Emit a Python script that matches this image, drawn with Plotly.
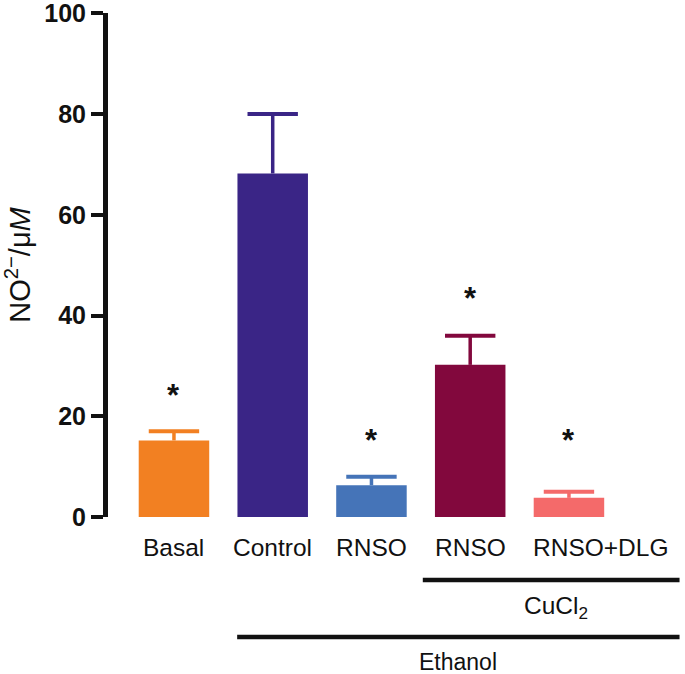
import plotly.graph_objects as go

categories = ["Basal", "Control", "RNSO", "RNSO", "RNSO+DLG"]
means = [15.2, 68.2, 6.3, 30.2, 3.8]
errors = [1.8, 11.8, 1.7, 5.8, 1.2]
significant = [True, False, True, True, True]
star_y = [24.6, None, 15.5, 43.8, 15.5]
colors = ["#F28022", "#3A2586", "#4574B8", "#82083D", "#F46A6A"]
y_ticks = [0, 20, 40, 60, 80, 100]

FONT = "Liberation Sans, Arial, sans-serif"
label_xshift = {4: 32}  # the last label sits right of its bar in the reference

fig = go.Figure()
for i, (m, e, c) in enumerate(zip(means, errors, colors)):
    fig.add_trace(go.Bar(
        x=[i], y=[m], width=0.714,
        marker=dict(color=c, line=dict(width=0)),
        error_y=dict(type="data", array=[e], arrayminus=[0], symmetric=False,
                     color=c, thickness=3.5, width=0),
        showlegend=False, hoverinfo="skip",
    ))
    fig.add_trace(go.Scatter(
        x=[i], y=[m + e], mode="markers",
        marker=dict(symbol="line-ew", size=36, line=dict(color=c, width=4)),
        showlegend=False, hoverinfo="skip",
    ))

annotations = []
for i, (s, sy) in enumerate(zip(significant, star_y)):
    if s:
        annotations.append(dict(x=i, y=sy, xref="x", yref="y", text="<b>*</b>",
                                showarrow=False, yanchor="middle", yshift=-2,
                                font=dict(family=FONT, size=31, color="#111")))

for i, lab in enumerate(categories):
    annotations.append(dict(x=i, xref="x", y=-0.0615, yref="paper", text=lab,
                            showarrow=False, yanchor="middle",
                            xshift=label_xshift.get(i, 0),
                            font=dict(family=FONT, size=24.5, color="#111")))

annotations.append(dict(x=3.87, xref="x", y=-0.18, yref="paper",
                        text="CuCl<sub>2</sub>", showarrow=False, yanchor="middle",
                        font=dict(family=FONT, size=24.5, color="#111")))
annotations.append(dict(x=2.88, xref="x", y=-0.288, yref="paper",
                        text="Ethanol", showarrow=False, yanchor="middle",
                        font=dict(family=FONT, size=23, color="#111")))

shapes = [
    dict(type="line", xref="x", yref="paper", x0=2.52, x1=5.12, y0=-0.125, y1=-0.125,
         line=dict(color="#111", width=4.5)),
    dict(type="line", xref="x", yref="paper", x0=0.64, x1=5.12, y0=-0.238, y1=-0.238,
         line=dict(color="#111", width=4.5)),
]

fig.update_layout(
    width=685, height=674,
    margin=dict(l=108, r=2, t=13, b=157),
    paper_bgcolor="white", plot_bgcolor="white",
    barmode="overlay",
    annotations=annotations,
    shapes=shapes,
    xaxis=dict(
        range=[-0.668, 5.155],
        showticklabels=False, ticks="",
        showline=False, showgrid=False, zeroline=False,
        fixedrange=True,
    ),
    yaxis=dict(
        range=[0, 100.05], tickvals=y_ticks,
        showline=True, linecolor="#111", linewidth=5,
        ticks="outside", ticklen=12, tickwidth=4, tickcolor="#111",
        showgrid=False, zeroline=False,
        ticklabeloverflow="allow",
        tickfont=dict(family=FONT, size=25, color="#111", weight="bold"),
        title=dict(text="NO<sup>2−</sup>/μ<i>M</i>",
                   font=dict(family=FONT, size=29, color="#111"), standoff=24),
        fixedrange=True,
    ),
)
fig.update_xaxes(automargin=False)
fig.update_yaxes(automargin=False)

fig.write_html("out.html", config={"displayModeBar": False},
               post_script="document.body.style.margin='0';document.body.style.padding='0';")
